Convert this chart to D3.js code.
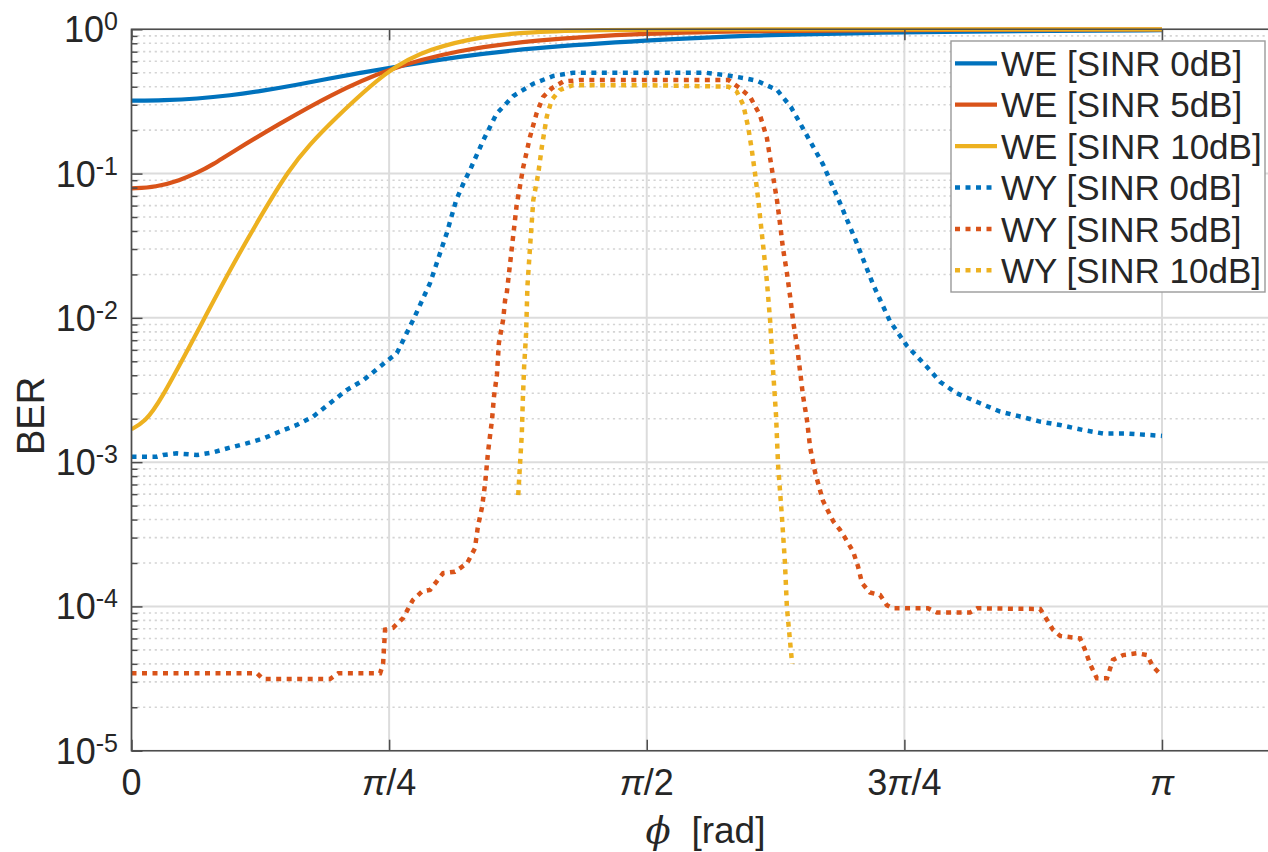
<!DOCTYPE html>
<html>
<head>
<meta charset="utf-8">
<script src="https://cdn.jsdelivr.net/npm/d3@7"></script>
<style>
  html, body { margin: 0; padding: 0; background: #fff; }
  svg { display: block; font-family: "Liberation Sans", Arial, Helvetica, sans-serif; }
</style>
</head>
<body>
<svg id="chart" width="1268" height="852"></svg>
<script>
// ---------------- data (phi in radians, BER) ----------------
const seriesNames = ["WE [SINR 0dB]", "WE [SINR 5dB]", "WE [SINR 10dB]",
                     "WY [SINR 0dB]", "WY [SINR 5dB]", "WY [SINR 10dB]"];
const seriesColors = ["#0072BD", "#D95319", "#EDB120", "#0072BD", "#D95319", "#EDB120"];

const weX = [0, 0.1, 0.2, 0.3, 0.4, 0.5, 0.6, 0.7, 0.785, 1.0, 1.215, 1.571, 1.9, 2.2, 2.465, 2.8, 3.1416];
const we0 = [0.32, 0.322, 0.33, 0.348, 0.375, 0.41, 0.455, 0.50, 0.54, 0.65, 0.74, 0.84, 0.91, 0.94, 0.96, 0.975, 0.985];

const we5X = [0, 0.075, 0.148, 0.2, 0.25, 0.3, 0.453, 0.605, 0.785, 1.0, 1.215, 1.571, 1.9, 2.3, 2.8, 3.1416];
const we5 = [0.079, 0.0805, 0.090, 0.101, 0.116, 0.138, 0.223, 0.35, 0.54, 0.72, 0.84, 0.94, 0.975, 0.99, 0.995, 0.997];

const we10X = [0, 0.04, 0.085, 0.209, 0.300, 0.392, 0.483, 0.545, 0.605, 0.785, 0.910, 1.062, 1.215, 1.43, 1.7, 2.2, 3.1416];
const we10 = [0.00169, 0.0019, 0.00256, 0.0087, 0.0215, 0.050, 0.109, 0.16, 0.223, 0.54, 0.735, 0.89, 0.96, 0.99, 0.998, 1.0, 1.0];

const wy0X = [0, 0.056, 0.077, 0.096, 0.138, 0.199, 0.249, 0.300, 0.351, 0.402, 0.453, 0.504, 0.554,
  0.605, 0.656, 0.707, 0.758, 0.809, 0.859, 0.910, 0.961, 0.99, 1.012, 1.032, 1.0725, 1.113, 1.164,
  1.225, 1.286, 1.346, 1.57, 1.75, 1.815, 1.865, 1.906, 1.968, 2.01, 2.05, 2.108, 2.160, 2.212,
  2.261, 2.312, 2.364, 2.424, 2.465, 2.516, 2.587, 2.648, 2.709, 2.770, 2.831, 2.901, 2.962, 3.035, 3.1416];
const wy0 = [0.00109, 0.00109, 0.00109, 0.00112, 0.00115, 0.00112, 0.00117, 0.00126, 0.00135, 0.00146,
  0.00163, 0.00181, 0.00207, 0.00256, 0.00316, 0.0037, 0.0046, 0.0057, 0.0097, 0.0174, 0.0386, 0.0656,
  0.0857, 0.106, 0.17, 0.26, 0.345, 0.42, 0.475, 0.50, 0.50, 0.50, 0.48, 0.46, 0.44, 0.38,
  0.29, 0.20, 0.116, 0.0625, 0.0326, 0.017, 0.0095, 0.0064, 0.0046, 0.0036, 0.0030, 0.00256, 0.00224,
  0.00207, 0.00191, 0.00181, 0.00167, 0.00158, 0.00158, 0.00152];

const wy5X = [0, 0.383, 0.401, 0.605, 0.630, 0.758, 0.767, 0.773, 0.797, 0.828, 0.858, 0.886, 0.910,
  0.950, 0.986, 1.023, 1.047, 1.056, 1.069, 1.078, 1.087, 1.099, 1.105, 1.114, 1.120, 1.133, 1.139,
  1.144, 1.174, 1.194, 1.215, 1.235, 1.255, 1.281, 1.316, 1.367, 1.57, 1.82, 1.855, 1.886, 1.916, 1.937,
  1.953, 1.968, 1.977, 1.986, 1.998, 2.008, 2.017, 2.029, 2.038, 2.047, 2.059, 2.069, 2.084, 2.108,
  2.139, 2.160, 2.175, 2.200, 2.215, 2.227, 2.251, 2.282, 2.303, 2.322, 2.428, 2.456, 2.556, 2.578,
  2.770, 2.785, 2.809, 2.831, 2.892, 2.907, 2.922, 2.943, 2.974, 2.992, 3.023, 3.065, 3.096, 3.114, 3.1416];
const wy5 = [3.44e-5, 3.44e-5, 3.14e-5, 3.14e-5, 3.44e-5, 3.44e-5, 4.0e-5, 6.9e-5, 7.1e-5, 8.3e-5,
  1.11e-4, 1.27e-4, 1.30e-4, 1.70e-4, 1.74e-4, 1.99e-4, 2.53e-4, 3.57e-4, 4.92e-4, 7.1e-4, 1.18e-3,
  1.96e-3, 2.84e-3, 4.02e-3, 6.7e-3, 9.7e-3, 0.0133, 0.0148, 0.06, 0.11, 0.18, 0.262, 0.34, 0.39, 0.434,
  0.445, 0.445, 0.445, 0.39, 0.34, 0.254, 0.177, 0.105, 0.065, 0.045, 0.0305, 0.0206, 0.014, 0.0095,
  0.0064, 0.0043, 0.0029, 0.00198, 0.00126, 8.5e-4, 5.4e-4, 3.9e-4, 3.39e-4, 3.0e-4, 2.4e-4, 1.89e-4,
  1.45e-4, 1.25e-4, 1.2e-4, 1.02e-4, 9.7e-5, 9.7e-5, 9.06e-5, 9.06e-5, 9.7e-5, 9.6e-5, 8.5e-5, 6.9e-5,
  6.25e-5, 6.0e-5, 5.0e-5, 4.0e-5, 3.18e-5, 3.18e-5, 4.26e-5, 4.6e-5, 4.74e-5, 4.6e-5, 3.83e-5, 3.3e-5];

const wy10X = [1.179, 1.184, 1.190, 1.193, 1.197, 1.203, 1.207, 1.215, 1.225, 1.240, 1.251, 1.266, 1.281,
  1.306, 1.346, 1.57, 1.82, 1.845, 1.865, 1.880, 1.891, 1.901, 1.911, 1.925, 1.937, 1.947, 1.956, 1.965,
  1.971, 1.983, 1.992, 1.998, 2.014];
const wy10 = [5.9e-4, 9.3e-4, 1.58e-3, 2.7e-3, 4.6e-3, 7.8e-3, 0.0165, 0.031, 0.0656, 0.10, 0.153, 0.248,
  0.324, 0.38, 0.41, 0.41, 0.40, 0.37, 0.30, 0.21, 0.146, 0.10, 0.065, 0.0326, 0.018, 0.0095, 0.0043,
  0.0021, 9.7e-4, 4.15e-4, 2.03e-4, 9.9e-5, 4.0e-5];

const xTickValues = [0, Math.PI / 4, Math.PI / 2, 3 * Math.PI / 4, Math.PI];
const xTickLabels = ["0", "π/4", "π/2", "3π/4", "π"];
const yTickExps = [0, -1, -2, -3, -4, -5];
const xDomain = [0, 3.5];
const yDomain = [1e-5, 1];

// ---------------- layout ----------------
const padL = 131.5, padT = 29.3, padB = 750.7, piPx = 1030.5;
const padR = padL + xDomain[1] / Math.PI * piPx;
const x = d3.scaleLinear().domain(xDomain).range([padL, padR]);
const y = d3.scaleLog().domain(yDomain).range([padB, padT]);

const svg = d3.select("#chart");
const textColor = "#262626";

svg.append("defs").append("clipPath").attr("id", "plotclip")
  .append("rect").attr("x", padL).attr("y", padT - 3).attr("width", padR - padL).attr("height", padB - padT + 3);

// minor grid (y)
const minorVals = [];
for (let e = -5; e < 0; e++) for (let k = 2; k <= 9; k++) minorVals.push(k * Math.pow(10, e));
const grid = svg.append("g");
grid.selectAll("line.minor").data(minorVals).enter().append("line")
  .attr("x1", padL).attr("x2", padR)
  .attr("y1", d => y(d)).attr("y2", d => y(d))
  .attr("stroke", "#d4d4d4").attr("stroke-width", 1.6).attr("stroke-dasharray", "2.2 3.6");
// major grid
grid.selectAll("line.majy").data(yTickExps.map(e => Math.pow(10, e))).enter().append("line")
  .attr("x1", padL).attr("x2", padR)
  .attr("y1", d => y(d)).attr("y2", d => y(d))
  .attr("stroke", "#dcdcdc").attr("stroke-width", 2);
grid.selectAll("line.majx").data(xTickValues).enter().append("line")
  .attr("x1", d => x(d)).attr("x2", d => x(d))
  .attr("y1", padT).attr("y2", padB)
  .attr("stroke", "#dcdcdc").attr("stroke-width", 2);

// ---------------- series ----------------
const solidSeries = [[weX, we0], [we5X, we5], [we10X, we10]];
const dotSeries = [[wy0X, wy0], [wy5X, wy5], [wy10X, wy10]];
const plot = svg.append("g").attr("clip-path", "url(#plotclip)");
const lineSmooth = d3.line().x(d => x(d[0])).y(d => y(d[1])).curve(d3.curveBasis);
const lineStraight = d3.line().x(d => x(d[0])).y(d => y(d[1]));

solidSeries.forEach((s, i) => {
  const pts = s[0].map((v, j) => [v, s[1][j]]);
  plot.append("path").attr("d", lineSmooth(pts)).attr("fill", "none")
    .attr("stroke", seriesColors[i]).attr("stroke-width", 4.2).attr("stroke-linejoin", "round");
});
dotSeries.forEach((s, i) => {
  const pts = s[0].map((v, j) => [v, s[1][j]]);
  plot.append("path").attr("d", lineStraight(pts)).attr("fill", "none")
    .attr("stroke", seriesColors[i + 3]).attr("stroke-width", 4.5)
    .attr("stroke-dasharray", "5 5.5").attr("stroke-linecap", "butt");
});

// ---------------- axes ----------------
const axisColor = "#4d4d4d";
const styleAxis = g => {
  g.select(".domain").remove();
  g.selectAll(".tick line").attr("stroke", axisColor).attr("stroke-width", 1.5);
  g.selectAll(".tick text").remove();
};
svg.append("g").attr("transform", `translate(0,${padB})`)
  .call(d3.axisBottom(x).tickValues(xTickValues).tickSize(-11).tickFormat("")).call(styleAxis);
svg.append("g").attr("transform", `translate(0,${padT})`)
  .call(d3.axisTop(x).tickValues(xTickValues).tickSize(-11).tickFormat("")).call(styleAxis);
svg.append("g").attr("transform", `translate(${padL},0)`)
  .call(d3.axisLeft(y).tickValues(yTickExps.map(e => Math.pow(10, e))).tickSize(-11).tickFormat("")).call(styleAxis);
svg.append("g").attr("transform", `translate(${padL},0)`)
  .call(d3.axisLeft(y).tickValues(minorVals).tickSize(-6).tickFormat("")).call(styleAxis);

// frame (left, bottom, top)
svg.append("path")
  .attr("d", `M${padR},${padT}H${padL}V${padB}H${padR}`)
  .attr("fill", "none").attr("stroke", axisColor).attr("stroke-width", 1.6);

// x tick labels
const xt = svg.append("g").attr("font-size", 36).attr("fill", textColor).attr("text-anchor", "middle");
xTickValues.forEach((v, i) => {
  const t = xt.append("text").attr("x", x(v)).attr("y", 795);
  xTickLabels[i].split(/(π)/).filter(s => s.length).forEach(part => {
    const ts = t.append("tspan").text(part);
    if (part === "π") ts.attr("font-style", "italic");
  });
});

// y tick labels
const yt = svg.append("g").attr("fill", textColor).attr("text-anchor", "end");
yTickExps.forEach(e => {
  const t = yt.append("text").attr("x", 118).attr("y", y(Math.pow(10, e)) + 13).attr("font-size", 36);
  t.append("tspan").text("10");
  t.append("tspan").attr("font-size", 25).attr("dy", -12).text(e === 0 ? "0" : "-" + Math.abs(e));
});

// axis labels
svg.append("text").attr("transform", `translate(44,${(padT + padB) / 2 + 26}) rotate(-90)`)
  .attr("text-anchor", "middle").attr("font-size", 38).attr("fill", textColor).text("BER");
const xl = svg.append("text").attr("x", (padL + padR) / 2).attr("y", 843)
  .attr("text-anchor", "middle").attr("font-size", 37).attr("fill", textColor);
xl.append("tspan").attr("font-style", "italic").attr("font-family", "'DejaVu Serif', serif").text("ϕ");
xl.append("tspan").text("\u00a0\u00a0[rad]");

// ---------------- legend ----------------
const lg = svg.append("g");
lg.append("rect").attr("x", 951).attr("y", 41).attr("width", 314).attr("height", 251)
  .attr("fill", "#fff").attr("stroke", "#9a9a9a").attr("stroke-width", 1.4);
seriesNames.forEach((name, i) => {
  const cy = 63.3 + 41.4 * i;
  lg.append("line").attr("x1", 955).attr("x2", 997).attr("y1", cy).attr("y2", cy)
    .attr("stroke", seriesColors[i]).attr("stroke-width", i < 3 ? 4.2 : 4.5)
    .attr("stroke-dasharray", i < 3 ? null : "5 5.5");
  lg.append("text").attr("x", 1001).attr("y", cy).attr("dy", "0.36em")
    .attr("font-size", 35).attr("fill", textColor).text(name);
});
</script>
</body>
</html>
